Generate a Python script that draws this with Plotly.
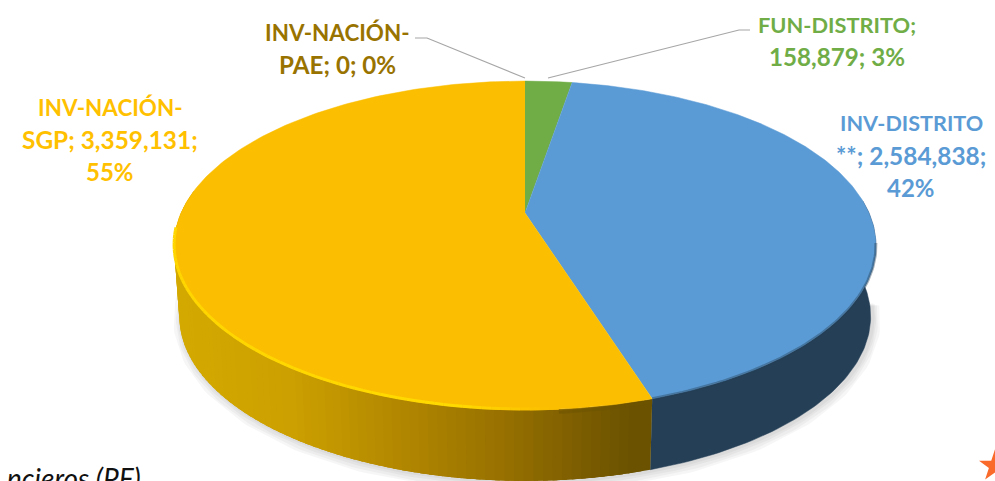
import numpy as np
import plotly.graph_objects as go

# ---- data ----
names = ["FUN-DISTRITO", "INV-DISTRITO **", "INV-NACIÓN-SGP", "INV-NACIÓN-PAE"]
values = [158879, 2584838, 3359131, 0]
colors = ["#70AD47", "#5B9BD5", "#FBBE00", "#997300"]
label_colors = ["#70AD47", "#5B9BD5", "#FFC000", "#997300"]
label_lines = [
    ["FUN-DISTRITO;", "158,879; 3%"],
    ["INV-DISTRITO", "**; 2,584,838;", "42%"],
    ["INV-NACIÓN-", "SGP; 3,359,131;", "55%"],
    ["INV-NACIÓN-", "PAE; 0; 0%"],
]
label_sizes = [[21.8, 24.2], [21.6, 24.4, 24], [22.4, 24.4, 24], [22.4, 24.2]]
label_centres_x = [837, 911, 110, 337]
label_top_y = [24, 123, 107, 32]
line_step = 32

W, H = 995, 481
CX, CY = 525.0, 213.0
A, B, K = 158.0, 344.0, 0.1976
DEPTH, BOTTOM_SCALE = 71.0, 0.985


def project(theta_deg):
    t = np.asarray(theta_deg, dtype=float)
    t = t + 0.7 * np.abs(np.sin(np.radians(t) / 2))
    r = np.radians(t)
    den = 1 + K * np.cos(r)
    return CX + B * np.sin(r) / den, CY - A * np.cos(r) / den


def project_bottom(theta_deg):
    x, y = project(theta_deg)
    return CX + (x - CX) * BOTTOM_SCALE, y + DEPTH


def lerp_stops(x, stops):
    xs = [s[0] for s in stops]
    return [float(np.interp(x, xs, [s[1][i] for s in stops])) for i in range(3)]


def rgb(c):
    return f"rgb({c[0]:.0f},{c[1]:.0f},{c[2]:.0f})"


total = sum(values)
edges = np.concatenate([[0], np.cumsum(values) / total * 360])

fig = go.Figure()


def poly(x, y, fill, width=0.5):
    fig.add_trace(go.Scatter(x=x, y=y, mode="lines", fill="toself", fillcolor=fill,
                             line=dict(color=fill, width=width),
                             hoverinfo="skip", showlegend=False))


def stroke(x, y, color, width):
    fig.add_trace(go.Scatter(x=x, y=y, mode="lines", line=dict(color=color, width=width),
                             hoverinfo="skip", showlegend=False))


# soft shadow under the disc
tt = np.linspace(96, 268, 160)
sx, sy = project_bottom(tt)
for w, d in [(16, 3), (11, 3), (7, 2), (4, 1)]:
    stroke(sx + 2, sy + d, "rgba(0,0,0,0.035)", w)

# side wall
blue_end = edges[2]
tb = np.linspace(85, blue_end, 80)
tx, ty = project(tb)
bx, by = project_bottom(tb)
poly(np.r_[tx, bx[::-1]], np.r_[ty, by[::-1]], "#243F56")

yellow_stops = [(170, (212, 170, 0)), (300, (204, 160, 0)), (420, (176, 134, 0)),
                (520, (150, 112, 0)), (600, (122, 92, 0)), (655, (104, 80, 0))]
te = np.linspace(blue_end, 278, 90)
step = te[1] - te[0]
# painted from the far end so that each band overlaps the next and no seams show
for a in te[:-1][::-1]:
    seg = np.linspace(a, min(a + 2.5 * step, 278), 5)
    tx, ty = project(seg)
    bx, by = project_bottom(seg)
    mid = float(project(a + step / 2)[0])
    poly(np.r_[tx, bx[::-1]], np.r_[ty, by[::-1]], rgb(lerp_stops(mid, yellow_stops)), width=0)

# top faces
for i in range(3):
    seg = np.linspace(edges[i], edges[i + 1], 200)
    x, y = project(seg)
    poly(np.r_[CX, x], np.r_[CY, y], colors[i])

# rim bevel, front edge
rim = np.linspace(blue_end, 264, 80)
rim_stops = [(170, (255, 214, 0)), (460, (255, 218, 0)), (520, (252, 198, 0)), (560, (251, 190, 0))]
for a, b in zip(rim[:-1], rim[1:]):
    seg = np.linspace(a, b, 3)
    x, y = project(seg)
    if x.mean() > 560:
        stroke(x, y + 3, "rgba(110,84,0,0.55)", 3)
    else:
        stroke(x, y - 1, rgb(lerp_stops(x.mean(), rim_stops)), 3)
rim_b = np.linspace(100, blue_end, 70)
x, y = project(rim_b)
stroke(x, y, "rgba(36,63,86,0.4)", 3)

# leader lines
leader_paes = ([415, 427, 525], [38, 38, 78])
leader_fun = ([548, 739, 750], [78, 30, 30])
for lx, ly in (leader_paes, leader_fun):
    stroke(lx, ly, "#A6A6A6", 1.2)

# corner ornament, cut by the page in the source image
fig.add_trace(go.Scatter(x=[995], y=[466], mode="markers",
                         marker=dict(symbol="star", size=24, color="#F96A2B"),
                         hoverinfo="skip", showlegend=False))

annotations = []
for lines, sizes, cxp, top, col in zip(label_lines, label_sizes, label_centres_x, label_top_y, label_colors):
    for j, (t, s) in enumerate(zip(lines, sizes)):
        annotations.append(dict(x=cxp, y=top + j * line_step, xref="x", yref="y", text=f"<b>{t}</b>",
                                showarrow=False, xanchor="center", yanchor="middle",
                                font=dict(family="Lato", size=s, color=col)))
annotations.append(dict(x=143, y=478, xref="x", yref="y", text="<i>ncieros (PF)</i>", showarrow=False,
                        xanchor="right", yanchor="middle",
                        font=dict(family="Lato", size=28, color="#111111")))

fig.update_layout(
    width=W, height=H, margin=dict(l=0, r=0, t=0, b=0, pad=0),
    paper_bgcolor="white", plot_bgcolor="white", showlegend=False,
    xaxis=dict(range=[0, W], visible=False, fixedrange=True),
    yaxis=dict(range=[H, 0], visible=False, fixedrange=True),
    annotations=annotations,
)
fig.write_html("out.html", config={"displayModeBar": False},
               post_script="document.body.style.margin='0';")
